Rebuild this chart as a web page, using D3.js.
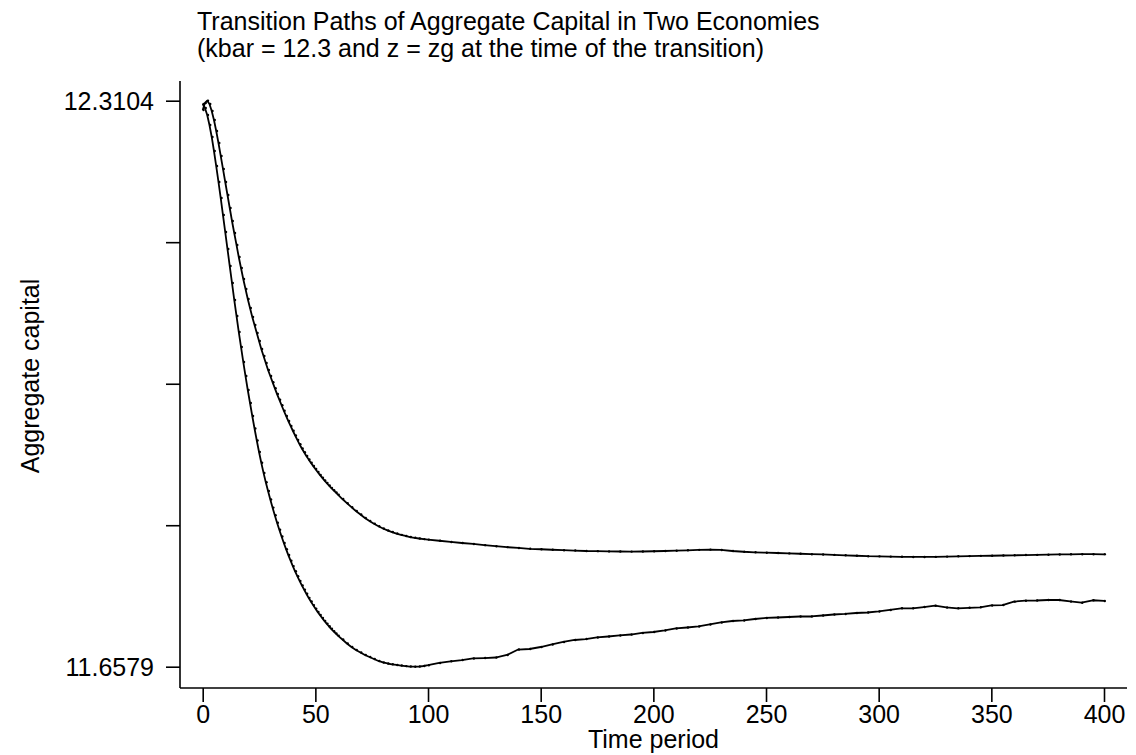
<!DOCTYPE html>
<html>
<head>
<meta charset="utf-8">
<script src="https://cdn.jsdelivr.net/npm/d3@7"></script>
<style>
  html, body { margin: 0; padding: 0; background: #fff; }
  svg text { font-family: "Liberation Sans", Arial, Helvetica, sans-serif; fill: #000; }
</style>
</head>
<body>
<svg id="chart" width="1136" height="755"></svg>
<script>
// Sampling grid: every period early on, then coarser as the paths flatten out
const periods = d3.range(0, 61).concat(d3.range(62, 101, 2), d3.range(105, 401, 5));

// Economy 1: slower adjustment, settles higher
const capitalSlow = [
  12.2997, 12.3078, 12.3104, 12.3066, 12.2985, 12.2882, 12.2755, 12.2616, 12.2467, 12.2317,
  12.2167, 12.2017, 12.1867, 12.1717, 12.1579, 12.1441, 12.1302, 12.1175, 12.1049, 12.0933,
  12.0818, 12.0714, 12.0611, 12.0518, 12.0426, 12.0334, 12.0242, 12.0161, 12.0080, 11.9999,
  11.9930, 11.9859, 11.9790, 11.9722, 11.9657, 11.9593, 11.9530, 11.9470, 11.9411, 11.9354,
  11.9299, 11.9245, 11.9193, 11.9143, 11.9095, 11.9051, 11.9009, 11.8969, 11.8931, 11.8894,
  11.8858, 11.8824, 11.8790, 11.8758, 11.8727, 11.8697, 11.8668, 11.8640, 11.8614, 11.8589,
  11.8563,
  // 62 .. 100 by 2
  11.8512, 11.8464, 11.8418, 11.8374, 11.8333, 11.8293, 11.8259, 11.8227, 11.8198, 11.8172,
  11.8150, 11.8131, 11.8114, 11.8099, 11.8086, 11.8074, 11.8065, 11.8057, 11.8050, 11.8044,
  // 105 .. 400 by 5
  11.8031, 11.8017, 11.8005, 11.7994, 11.7980, 11.7968, 11.7957, 11.7948, 11.7938, 11.7933,
  11.7927, 11.7922, 11.7918, 11.7913, 11.7911, 11.7908, 11.7907, 11.7906, 11.7907, 11.7910,
  11.7913, 11.7916, 11.7921, 11.7926, 11.7929, 11.7925, 11.7913, 11.7904, 11.7898, 11.7893,
  11.7890, 11.7885, 11.7881, 11.7876, 11.7873, 11.7868, 11.7863, 11.7858, 11.7853, 11.7851,
  11.7848, 11.7846, 11.7844, 11.7844, 11.7845, 11.7848, 11.7852, 11.7854, 11.7857, 11.7858,
  11.7861, 11.7863, 11.7866, 11.7868, 11.7870, 11.7873, 11.7875, 11.7876, 11.7876, 11.7875
];

// Economy 2: faster adjustment, overshoots and recovers slowly
const capitalFast = [
  12.3066, 12.3020, 12.2939, 12.2824, 12.2686, 12.2524, 12.2351, 12.2167, 12.1982, 12.1786,
  12.1590, 12.1394, 12.1198, 12.1003, 12.0807, 12.0622, 12.0438, 12.0265, 12.0092, 11.9930,
  11.9769, 11.9619, 11.9469, 11.9325, 11.9187, 11.9054, 11.8930, 11.8813, 11.8706, 11.8605,
  11.8507, 11.8413, 11.8325, 11.8239, 11.8157, 11.8080, 11.8005, 11.7934, 11.7866, 11.7801,
  11.7739, 11.7679, 11.7623, 11.7568, 11.7516, 11.7467, 11.7420, 11.7373, 11.7331, 11.7289,
  11.7249, 11.7211, 11.7175, 11.7141, 11.7107, 11.7076, 11.7045, 11.7016, 11.6988, 11.6962,
  11.6937,
  // 62 .. 100 by 2
  11.6893, 11.6847, 11.6806, 11.6772, 11.6743, 11.6714, 11.6691, 11.6668, 11.6645, 11.6628,
  11.6616, 11.6607, 11.6599, 11.6592, 11.6586, 11.6581, 11.6579, 11.6581, 11.6587, 11.6596,
  // 105 .. 400 by 5
  11.6622, 11.6641, 11.6656, 11.6674, 11.6679, 11.6685, 11.6714, 11.6777, 11.6783, 11.6806,
  11.6835, 11.6864, 11.6887, 11.6898, 11.6916, 11.6927, 11.6939, 11.6950, 11.6968, 11.6979,
  11.6997, 11.7020, 11.7031, 11.7043, 11.7066, 11.7089, 11.7106, 11.7112, 11.7129, 11.7141,
  11.7146, 11.7152, 11.7158, 11.7158, 11.7169, 11.7181, 11.7187, 11.7198, 11.7204, 11.7216,
  11.7233, 11.7252, 11.7252, 11.7267, 11.7282, 11.7262, 11.7252, 11.7258, 11.7264, 11.7285,
  11.7290, 11.7329, 11.7340, 11.7342, 11.7348, 11.7348, 11.7331, 11.7317, 11.7345, 11.7337
];

const xTicks = [0, 50, 100, 150, 200, 250, 300, 350, 400];
const yTicks = [12.3104, 12.1473, 11.9841, 11.8210, 11.6579];
const yTickLabels = ["12.3104", "", "", "", "11.6579"];

const titleLines = [
  "Transition Paths of Aggregate Capital in Two Economies",
  "(kbar = 12.3 and z = zg at the time of the transition)"
];
const xTitle = "Time period";
const yTitle = "Aggregate capital";

const svg = d3.select("#chart");
svg.append("rect").attr("width", 1136).attr("height", 755).attr("fill", "#fff");

const frame = { left: 180, right: 1127, top: 81, bottom: 688 };

const x = d3.scaleLinear().domain([0, 400]).range([202.7, 1104]);
const y = d3.scaleLinear().domain([11.6579, 12.3104]).range([666.7, 100.7]);

const FONT = 25;

// Axes
const xAxis = d3.axisBottom(x)
  .tickValues(xTicks)
  .tickSize(14)
  .tickPadding(5)
  .tickFormat(d3.format("d"));

const gx = svg.append("g")
  .attr("transform", `translate(0,${frame.bottom})`)
  .call(xAxis);
gx.select(".domain").remove();
gx.append("line")
  .attr("x1", frame.left).attr("x2", frame.right)
  .attr("y1", 0).attr("y2", 0);
gx.selectAll("line").attr("stroke", "#000").attr("stroke-width", 1.6);
gx.selectAll("text")
  .attr("font-size", FONT)
  .attr("font-family", null)
  .attr("dy", null)
  .attr("y", 34.5);

const yAxis = d3.axisLeft(y)
  .tickValues(yTicks)
  .tickSize(14)
  .tickPadding(12)
  .tickFormat((d, i) => yTickLabels[i]);

const gy = svg.append("g")
  .attr("transform", `translate(${frame.left},0)`)
  .call(yAxis);
gy.select(".domain").remove();
gy.append("line")
  .attr("x1", 0).attr("x2", 0)
  .attr("y1", frame.top).attr("y2", frame.bottom);
gy.selectAll("line").attr("stroke", "#000").attr("stroke-width", 1.6);
gy.selectAll("text")
  .attr("font-size", FONT)
  .attr("font-family", null)
  .attr("dy", null)
  .attr("y", 9)
  .attr("x", -26);

// Paths with a tiny marker at every observation
const series = [capitalSlow, capitalFast];
const line = d3.line()
  .x((d, i) => x(periods[i]))
  .y(d => y(d));

series.forEach(values => {
  svg.append("path")
    .datum(values)
    .attr("fill", "none")
    .attr("stroke", "#000")
    .attr("stroke-width", 1.8)
    .attr("stroke-linejoin", "round")
    .attr("d", line);

  svg.append("g")
    .selectAll("circle")
    .data(values)
    .join("circle")
    .attr("cx", (d, i) => x(periods[i]) + 0.8)
    .attr("cy", d => y(d))
    .attr("r", 1.2)
    .attr("fill", "#000");
});

// Titles
svg.append("g")
  .selectAll("text")
  .data(titleLines)
  .join("text")
  .attr("x", 197)
  .attr("y", (d, i) => 30 + i * 27)
  .attr("font-size", FONT)
  .text(d => d);

svg.append("text")
  .attr("x", (frame.left + frame.right) / 2)
  .attr("y", 748)
  .attr("text-anchor", "middle")
  .attr("font-size", FONT)
  .text(xTitle);

svg.append("text")
  .attr("transform", "translate(39,376) rotate(-90)")
  .attr("text-anchor", "middle")
  .attr("font-size", FONT)
  .text(yTitle);
</script>
</body>
</html>
